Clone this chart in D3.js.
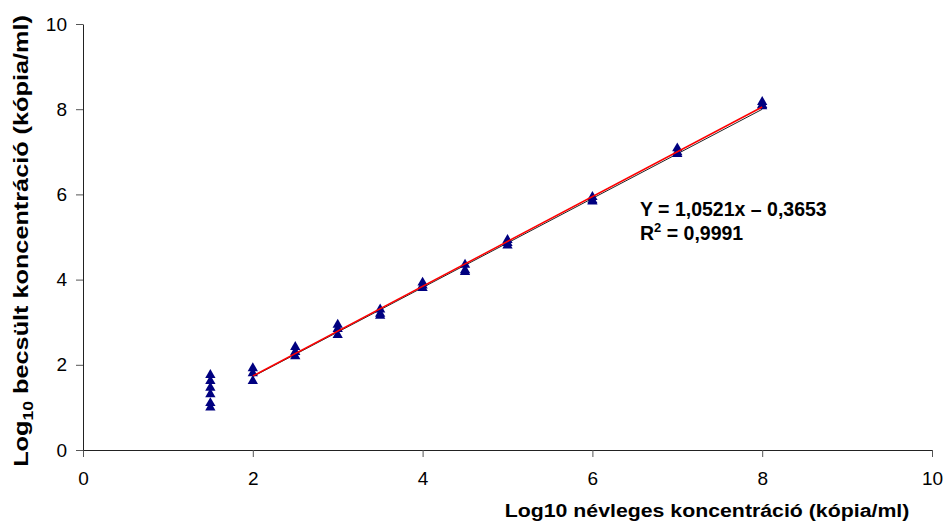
<!DOCTYPE html>
<html>
<head>
<meta charset="utf-8">
<script src="https://cdn.jsdelivr.net/npm/d3@7"></script>
<style>
  body { margin: 0; background: #fff; }
  text { font-family: "Liberation Sans", Arial, sans-serif; }
</style>
</head>
<body>
<svg id="vis-svg" width="946" height="523"></svg>
<script>
// chart data
var nominal = [1.5, 1.5, 1.5, 1.5, 1.5, 1.5,
  2, 2, 2, 2.5, 2.5, 2.5, 3, 3, 3, 3.5, 3.5, 3.5,
  4, 4, 4, 4.5, 4.5, 4.5, 5, 5, 5, 6, 6, 6, 7, 7, 7, 8, 8, 8];
var estimated = [1.76, 1.62, 1.46, 1.31, 1.1, 1.0,
  1.92, 1.8, 1.62, 2.42, 2.3, 2.2, 2.94, 2.84, 2.7, 3.3, 3.2, 3.15,
  3.93, 3.86, 3.8, 4.35, 4.22, 4.18, 4.93, 4.86, 4.8, 5.94, 5.86, 5.83,
  7.08, 6.99, 6.95, 8.17, 8.1, 8.07];
var xTicks = [0, 2, 4, 6, 8, 10];
var yTicks = [0, 2, 4, 6, 8, 10];
var fitSlope = 1.0521, fitIntercept = -0.3653;   // red trend line
var blackSlope = 1.046, blackIntercept = -0.37;  // thin black line
var lineRange = [2, 8];

var margin = { top: 24, right: 14, bottom: 73, left: 83 };
var width = 946, height = 523;
var plotW = width - margin.left - margin.right;
var plotH = height - margin.top - margin.bottom;

var svg = d3.select("#vis-svg");
var space = svg.append("g")
  .attr("transform", "translate(" + margin.left + "," + margin.top + ")");

var x = d3.scaleLinear().domain([0, 10]).range([0, 849]);
var y = d3.scaleLinear().domain([0, 10]).range([plotH, 0]);

// axes
var xAxis = space.append("g")
  .attr("transform", "translate(0," + plotH + ")")
  .call(d3.axisBottom(x).tickValues(xTicks).tickSize(7).tickPadding(15).tickSizeOuter(0));
var yAxis = space.append("g")
  .call(d3.axisLeft(y).tickValues(yTicks).tickSize(7).tickPadding(9).tickSizeOuter(0));

[xAxis, yAxis].forEach(function(a){
  a.select(".domain").attr("stroke", "#222");
  a.selectAll(".tick line").attr("stroke", "#555");
  a.selectAll(".tick text")
    .style("font-size", "19px")
    .style("font-family", "'Liberation Sans', Arial, sans-serif")
    .attr("fill", "#000");
});

// lines
var line = d3.line()
  .x(function(d){ return x(d[0]); })
  .y(function(d){ return y(d[1]); });

space.append("path")
  .datum(lineRange.map(function(v){ return [v, blackSlope * v + blackIntercept]; }))
  .attr("fill", "none")
  .attr("stroke", "#222")
  .attr("stroke-width", 1)
  .attr("d", line);

// points
var tri = d3.symbol().type(d3.symbolTriangle).size(46);
space.selectAll("path.pt")
  .data(nominal.map(function(v, i){ return [v, estimated[i]]; }))
  .enter()
  .append("path")
  .attr("class", "pt")
  .attr("d", tri)
  .attr("transform", function(d){ return "translate(" + x(d[0]) + "," + y(d[1]) + ")"; })
  .attr("fill", "#000080");

space.append("path")
  .datum(lineRange.map(function(v){ return [v, fitSlope * v + fitIntercept]; }))
  .attr("fill", "none")
  .attr("stroke", "#ff0000")
  .attr("stroke-width", 1.5)
  .attr("d", line);

// equation
svg.append("text")
  .attr("x", 640).attr("y", 216)
  .style("font-size", "19.5px").style("font-weight", "bold")
  .text("Y = 1,0521x \u2013 0,3653");
var r2 = svg.append("text")
  .attr("x", 640).attr("y", 240)
  .style("font-size", "19.5px").style("font-weight", "bold");
r2.append("tspan").text("R");
r2.append("tspan").attr("dy", -8).style("font-size", "13px").text("2");
r2.append("tspan").attr("dy", 8).text(" = 0,9991");

// axis titles, stretched along their length like the original
function stretch(sel, cx, cy, len, rot){
  var w = sel.node().getComputedTextLength();
  sel.attr("transform", "translate(" + cx + "," + cy + ") rotate(" + rot + ") scale(" + (len / w) + ",1)");
}

var xt = svg.append("text")
  .attr("text-anchor", "middle")
  .style("font-size", "19px").style("font-weight", "bold")
  .text("Log10 névleges koncentráció (kópia/ml)");
stretch(xt, 707, 517, 405, 0);

var yt = svg.append("text")
  .attr("text-anchor", "middle")
  .attr("y", 0)
  .style("font-size", "20px").style("font-weight", "bold");
yt.append("tspan").text("Log");
yt.append("tspan").attr("dy", 5).style("font-size", "14px").text("10");
yt.append("tspan").attr("dy", -5).text(" becsült koncentráció (kópia/ml)");
stretch(yt, 28, 241, 452, -90);
</script>
</body>
</html>
